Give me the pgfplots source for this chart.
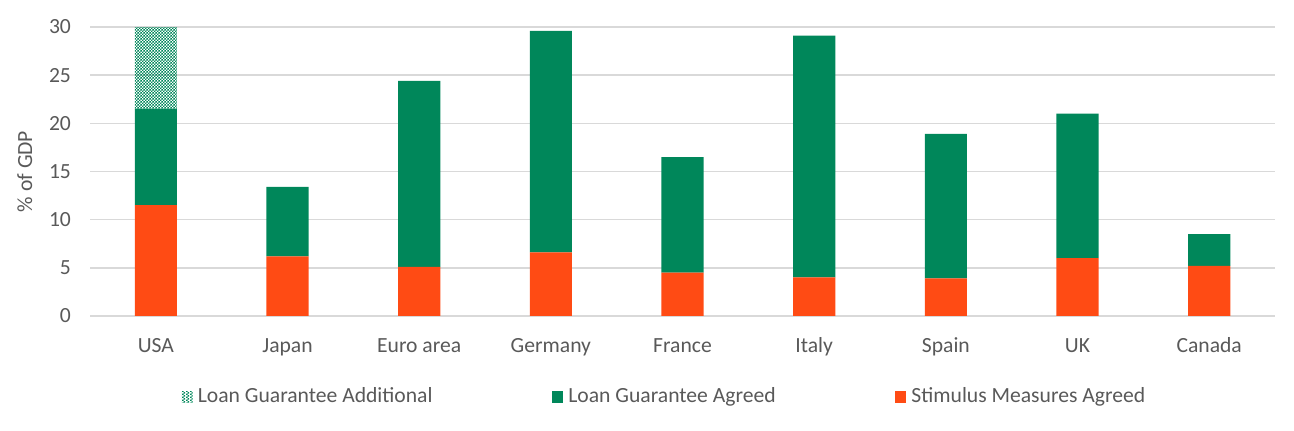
\documentclass[border=0pt]{standalone}
\usepackage{fontspec}
\setmainfont{Carlito}
\usepackage{pgfplots}
\pgfplotsset{compat=1.18}
\usetikzlibrary{patterns}
\definecolor{loangreen}{RGB}{0,135,90}
\definecolor{stimred}{RGB}{255,75,20}
\definecolor{txtgrey}{RGB}{89,89,89}
\definecolor{gridgrey}{RGB}{217,217,217}

% fine checker like the Excel pattern fill
\pgfdeclarepatternformonly{finecheck}{\pgfpointorigin}{\pgfqpoint{1.3pt}{1.3pt}}{\pgfqpoint{1.3pt}{1.3pt}}{
    \pgfpathrectangle{\pgfpointorigin}{\pgfqpoint{0.65pt}{0.65pt}}
    \pgfpathrectangle{\pgfqpoint{0.65pt}{0.65pt}}{\pgfqpoint{0.65pt}{0.65pt}}
    \pgfusepath{fill}
}

\begin{document}
\begin{tikzpicture}
\begin{axis}[
    name=ax,
    scale only axis,
    width=15.8cm,
    height=3.853cm,
    ybar stacked,
    bar width=0.32,
    xmin=-0.5, xmax=8.5,
    ymin=0, ymax=30,
    ytick={0,5,...,30},
    xtick=data,
    xticklabels={USA,Japan,Euro area,Germany,France,Italy,Spain,UK,Canada},
    axis line style={draw=none},
    tick style={draw=none},
    ymajorgrids=true,
    grid style={gridgrey, line width=0.6pt},
    font=\fontsize{8.2}{9.5}\selectfont,
    /pgf/number format/assume math mode=true,
    ticklabel style={txtgrey},
    yticklabel style={xshift=-0.13cm},
    xticklabel style={yshift=-0.1cm, text height=1.6ex, text depth=0.5ex},
    ylabel={\% of GDP},
    ylabel style={txtgrey, at={(axis description cs:-0.055,0.5)}, anchor=center},
    legend columns=3,
    legend style={draw=none, fill=none, text=txtgrey,
        at={(0.486,-0.28)}, anchor=center,
        /tikz/every even column/.append style={column sep=1.52cm}},
    legend image code/.code={
        \path[#1, draw=none] (0cm,-0.075cm) rectangle (0.15cm,0.075cm);
    },
    reverse legend,
]
\addplot[fill=stimred, draw=none] coordinates {
    (0,11.5) (1,6.2) (2,5.1) (3,6.6) (4,4.5) (5,4.0) (6,3.9) (7,6.0) (8,5.2)
};
\addlegendentry{Stimulus Measures Agreed}
\addplot[fill=loangreen, draw=none] coordinates {
    (0,10.0) (1,7.2) (2,19.3) (3,23.0) (4,12.0) (5,25.1) (6,15.0) (7,15.0) (8,3.3)
};
\addlegendentry{Loan Guarantee Agreed}
\addplot[pattern=finecheck, pattern color=loangreen, draw=none] coordinates {
    (0,8.5) (1,0) (2,0) (3,0) (4,0) (5,0) (6,0) (7,0) (8,0)
};
\addlegendentry{Loan Guarantee Additional}
\end{axis}
\path ([shift={(-1.2cm,-1.533cm)}]ax.south west) rectangle ([shift={(0.253cm,0.36cm)}]ax.north east);
\end{tikzpicture}
\end{document}
